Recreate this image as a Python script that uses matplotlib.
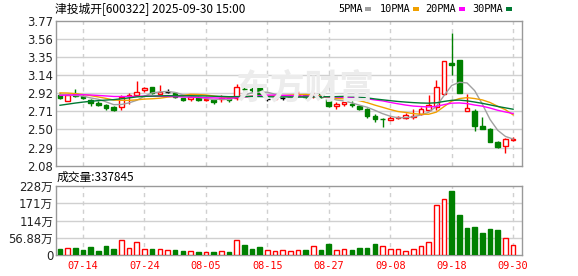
import matplotlib
matplotlib.use('Agg')
import matplotlib.pyplot as plt
from matplotlib.patches import Rectangle
import numpy as np
import pandas as pd

# ---------------- data ----------------
dates = pd.bdate_range('2025-07-09', '2025-09-30')

# closes before the visible window, only used to warm up the moving averages
prior_close = [2.52, 2.50, 2.53, 2.55, 2.54, 2.56, 2.58, 2.57, 2.60, 2.60,
               2.80, 2.86, 2.84, 2.88, 2.90, 2.87, 2.85, 2.89, 2.90, 2.91,
               2.93, 2.96, 2.97, 2.95, 2.94, 2.93, 2.92, 2.91, 2.92]

opens = [2.91, 2.84, 2.92, 2.89, 2.85, 2.815, 2.79, 2.765, 2.765, 2.89,
         2.91, 2.96, 2.995, 2.92, 2.94, 2.93, 2.87, 2.86, 2.88, 2.85,
         2.85, 2.86, 2.87, 2.87, 2.98, 2.975, 2.99, 2.855, 2.855, 2.87,
         2.875, 2.895, 2.90, 2.89, 2.92, 2.862, 2.78, 2.80, 2.80, 2.777,
         2.74, 2.664, 2.63, 2.618, 2.635, 2.64, 2.65, 2.684, 2.73, 2.762,
         2.914, 3.28, 3.315, 2.72, 2.72, 2.543, 2.512, 2.357, 2.306, 2.38]
highs = [2.93, 2.92, 2.98, 2.90, 2.86, 2.83, 2.80, 2.78, 2.91, 2.93,
         3.065, 3.00, 3.00, 3.02, 2.975, 2.94, 2.875, 2.89, 2.89, 2.88,
         2.86, 2.91, 2.89, 3.03, 3.01, 3.02, 3.00, 2.87, 2.89, 2.88,
         2.90, 2.95, 2.92, 2.94, 2.93, 2.87, 2.82, 2.85, 2.83, 2.79,
         2.75, 2.68, 2.635, 2.655, 2.66, 2.69, 2.74, 2.76, 2.90, 3.08,
         3.30, 3.633, 3.32, 2.92, 2.74, 2.65, 2.52, 2.37, 2.40, 2.41]
lows = [2.86, 2.835, 2.88, 2.855, 2.78, 2.78, 2.73, 2.72, 2.725, 2.80,
        2.90, 2.94, 2.92, 2.915, 2.925, 2.87, 2.83, 2.84, 2.83, 2.84,
        2.80, 2.82, 2.82, 2.85, 2.94, 2.94, 2.89, 2.84, 2.85, 2.85,
        2.86, 2.88, 2.86, 2.87, 2.87, 2.77, 2.74, 2.78, 2.77, 2.73,
        2.64, 2.59, 2.535, 2.61, 2.625, 2.63, 2.62, 2.67, 2.72, 2.73,
        2.90, 3.14, 2.93, 2.715, 2.49, 2.505, 2.35, 2.29, 2.23, 2.37]
closes = [2.87, 2.91, 2.89, 2.87, 2.815, 2.79, 2.757, 2.73, 2.88, 2.91,
          2.94, 2.99, 2.93, 2.935, 2.94, 2.88, 2.85, 2.88, 2.85, 2.86,
          2.82, 2.875, 2.85, 3.00, 2.97, 2.965, 2.90, 2.855, 2.88, 2.87,
          2.885, 2.91, 2.88, 2.90, 2.88, 2.777, 2.80, 2.82, 2.79, 2.745,
          2.655, 2.622, 2.625, 2.64, 2.65, 2.67, 2.66, 2.742, 2.79, 2.995,
          3.30, 3.253, 2.932, 2.75, 2.543, 2.51, 2.36, 2.30, 2.392, 2.39]

# volume in 万 (10k)
volumes = [20, 23, 23, 16.5, 26, 13, 30, 20, 50, 23,
           43, 20, 20, 20, 16.5, 16.5, 13, 13, 10, 10,
           10, 13, 10, 50, 33, 20, 26, 16.5, 13, 16.5,
           13, 16.5, 16.5, 30, 16.5, 36, 16.5, 20, 16.5, 23,
           23, 36, 30, 20, 20, 13, 20, 30, 43, 165,
           185, 211, 132, 89, 92, 73, 86, 82, 56, 33.7845]
vol_up = [0, 1, 0, 0, 0, 0, 0, 0, 1, 1,
          1, 1, 0, 1, 1, 0, 0, 1, 0, 1,
          0, 1, 0, 1, 0, 0, 0, 1, 1, 1,
          1, 1, 0, 1, 0, 0, 1, 1, 0, 0,
          0, 0, 1, 1, 1, 1, 1, 1, 1, 1,
          1, 0, 0, 0, 0, 0, 0, 0, 1, 1]

price_tick_labels = ['2.08', '2.29', '2.50', '2.71', '2.92', '3.14', '3.35', '3.56', '3.77']
vol_ticks = [0, 56.88, 113.76, 170.64, 227.52]
vol_tick_labels = ['0', '56.88万', '114万', '171万', '228万']
ma_periods = [5, 10, 20, 30]
ma_colors = ['#a0a0a0', '#f0a000', '#ff00ff', '#007a33']

# ---------------- figure ----------------
W, H = 578, 276
fig = plt.figure(figsize=(W / 100, H / 100), dpi=100)
fig.patch.set_facecolor('white')

RED = '#ff0000'
GREEN = '#008000'
GRID = '#d0d0d0'
FRAME = '#999999'
CJK = ['DejaVu Sans', 'Noto Sans CJK SC']


def px_axes(left, top, right, bottom):
    return fig.add_axes([left / W, 1 - bottom / H, (right - left) / W, (bottom - top) / H])


ax = px_axes(56, 21, 522, 165.6)
axv = px_axes(56, 186, 522, 255)

n = len(closes)
x = np.arange(n)
xlim = (-0.52, 60.16)
date_idx = list(range(3, n, 8))

# watermark
fig.text(305 / W, 1 - 88 / H, '东方财富', fontsize=25, color='#ececec',
         family='Noto Sans CJK SC', fontweight='bold', style='italic',
         ha='center', va='center', zorder=0)

for a in (ax, axv):
    a.set_xlim(*xlim)
    a.patch.set_alpha(0)
    for s in a.spines.values():
        s.set_color(FRAME)
        s.set_linewidth(1)
    a.tick_params(length=0)
    for i in date_idx:
        a.axvline(i, color=GRID, lw=1, ls=(0, (3, 3)), zorder=1)

# price axis
ax.set_ylim(2.08, 3.77)
pt = np.linspace(2.08, 3.77, len(price_tick_labels))
ax.set_yticks(pt)
ax.set_yticklabels(price_tick_labels, fontsize=8.4, color='#222222')
ax.tick_params(axis='y', pad=2)
ax.set_xticks([])
for v in pt[1:-1]:
    ax.axhline(v, color=GRID, lw=1, zorder=1)

bw = 0.6
for i in range(n):
    o, h, l, c = opens[i], highs[i], lows[i], closes[i]
    if c > o:
        ax.vlines(i, c, h, color=RED, lw=1, zorder=3)
        ax.vlines(i, l, o, color=RED, lw=1, zorder=3)
        ax.add_patch(Rectangle((i - bw / 2, o), bw, c - o, facecolor='white',
                               edgecolor=RED, lw=1, zorder=3))
    elif c < o:
        ax.vlines(i, l, h, color=GREEN, lw=1, zorder=3)
        ax.add_patch(Rectangle((i - bw / 2, c), bw, o - c, facecolor=GREEN,
                               edgecolor=GREEN, lw=1, zorder=3))
    else:
        ax.vlines(i, l, h, color='black', lw=1, zorder=3)
        ax.hlines(o, i - bw / 2, i + bw / 2, color='black', lw=1, zorder=3)

all_close = pd.Series(prior_close + closes)
for p, col in zip(ma_periods, ma_colors):
    ma = all_close.rolling(p).mean().values[len(prior_close):]
    ax.plot(x, ma, color=col, lw=1, zorder=4)

# volume axis
axv.set_ylim(0, vol_ticks[-1])
axv.set_yticks(vol_ticks)
axv.set_yticklabels(vol_tick_labels, fontsize=8.4, color='#222222', family=CJK)
axv.tick_params(axis='y', pad=2)
for v in vol_ticks[1:-1]:
    axv.axhline(v, color=GRID, lw=1, zorder=1)
for i in range(n):
    if vol_up[i]:
        axv.bar(i, volumes[i], width=bw, facecolor='white', edgecolor=RED, lw=1, zorder=3)
    else:
        axv.bar(i, volumes[i], width=bw, facecolor=GREEN, edgecolor=GREEN, lw=1, zorder=3)
axv.set_xticks(date_idx)
axv.set_xticklabels([dates[i].strftime('%m-%d') for i in date_idx],
                    fontsize=7.4, color=RED, family='DejaVu Sans Mono')
axv.tick_params(axis='x', pad=4)

# titles
fig.text(55 / W, 1 - 9.5 / H, '津投城开[600322] 2025-09-30 15:00', fontsize=8.5,
         family=['Noto Sans CJK SC', 'DejaVu Sans'], va='center', ha='left', color='black')
fig.text(57 / W, 1 - 177 / H, '成交量:%d' % round(volumes[-1] * 1e4), fontsize=8.5,
         family=['Noto Sans CJK SC', 'DejaVu Sans'], va='center', ha='left', color='black')

# legend
leg_x = [338, 380, 425, 472]
mark_x = [365, 413, 459, 506]
for p, col, lx, mx in zip(ma_periods, ma_colors, leg_x, mark_x):
    fig.text(lx / W, 1 - 9.5 / H, '%dPMA' % p, fontsize=7.4, family='DejaVu Sans Mono',
             va='center', ha='left', color='black')
    fig.add_artist(Rectangle((mx / W, 1 - 10.5 / H), 6 / W, 3 / H, transform=fig.transFigure,
                             facecolor=col, edgecolor='none'))

fig.savefig('out.png', dpi=100, facecolor='white')
